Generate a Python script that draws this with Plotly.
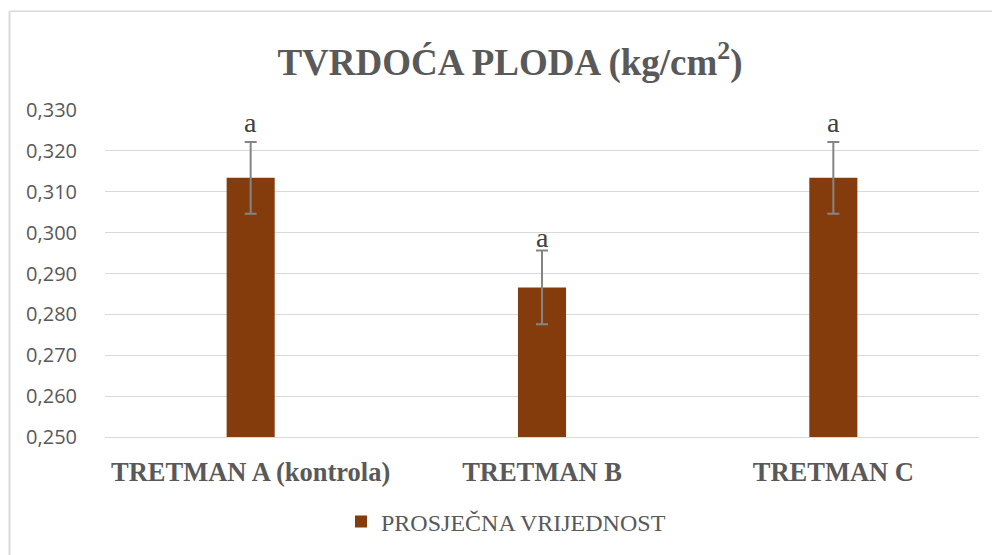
import plotly.graph_objects as go

categories = ["TRETMAN A (kontrola)", "TRETMAN B", "TRETMAN C"]
means = [0.3134, 0.2866, 0.3134]
errors = [0.0088, 0.0090, 0.0088]
letters = ["a", "a", "a"]
series_name = "PROSJEČNA VRIJEDNOST"
y_ticks = [0.25, 0.26, 0.27, 0.28, 0.29, 0.30, 0.31, 0.32, 0.33]
y_tick_text = ["0,250", "0,260", "0,270", "0,280", "0,290", "0,300", "0,310", "0,320", "0,330"]
letter_shifts = [2, -4, 2]

# page has an 8px body margin; figure is sized to fill the rest of the window
W, H = 992, 547
L, R, T, B = 97, 21, 102, 117
PW, PH = W - L - R, H - T - B

fig = go.Figure()
fig.add_trace(go.Bar(
    x=categories, y=means, name=series_name,
    marker=dict(color="#843C0C", line=dict(width=0)),
    width=0.165,
    error_y=dict(type="data", array=errors, visible=True, color="#858585", thickness=2, width=6),
))

for c, m, e, t, s in zip(categories, means, errors, letters, letter_shifts):
    fig.add_annotation(x=c, y=m + e, text=t, showarrow=False, yanchor="bottom", yshift=s,
                       font=dict(family="Liberation Serif", size=28, color="#404040"))

fig.update_layout(
    width=W, height=H,
    paper_bgcolor="white", plot_bgcolor="white",
    margin=dict(l=L, r=R, t=T, b=B),
    title=dict(text="<b>TVRDOĆA PLODA (kg/cm<sup>2</sup>)</b>", x=(510 - 8) / W, xanchor="center",
               y=1 - (62 - 8) / H, yanchor="middle",
               font=dict(family="Liberation Serif", size=37, color="#595959")),
    showlegend=True,
    legend=dict(orientation="h", x=0.5 - 36 / PW, xanchor="center", y=-(522 - 438) / PH, yanchor="middle",
                font=dict(family="Liberation Serif", size=24, color="#595959")),
    bargap=0.5,
)
fig.update_yaxes(range=[0.25, 0.33], tickvals=y_ticks, ticktext=y_tick_text,
                 showgrid=True, gridcolor="#D9D9D9", gridwidth=1.3, zeroline=False,
                 showline=False, ticklabelstandoff=27,
                 tickfont=dict(family="Open Sans", size=20, color="#595959"))
fig.update_xaxes(showgrid=False, showline=True, linecolor="#D9D9D9", linewidth=1.3,
                 ticklabelstandoff=11,
                 tickfont=dict(family="Liberation Serif", size=26.5, color="#595959"))
fig.update_xaxes(tickprefix="<b>", ticksuffix="</b>")

# outer chart border (left and top edges visible)
fig.add_shape(type="line", xref="paper", yref="paper",
              x0=(1.5 - L) / PW, x1=(1.5 - L) / PW, y0=-(B + 10) / PH, y1=(PH + T - 3) / PH,
              line=dict(color="#D9D9D9", width=2))
fig.add_shape(type="line", xref="paper", yref="paper",
              x0=(1.5 - L) / PW, x1=(W + 10 - L) / PW, y0=(PH + T - 3) / PH, y1=(PH + T - 3) / PH,
              line=dict(color="#D9D9D9", width=1.5))

fig.write_html("out.html")
